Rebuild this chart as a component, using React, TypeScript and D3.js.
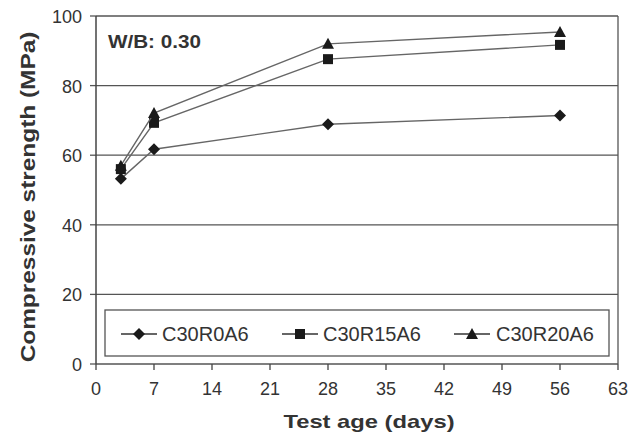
import { scaleLinear, line as d3Line } from "d3";

const days = [3, 7, 28, 56];
const seriesNames = ["C30R0A6", "C30R15A6", "C30R20A6"];
const c30r0a6 = [53.2, 61.7, 68.9, 71.4];
const c30r15a6 = [56.0, 69.3, 87.6, 91.7];
const c30r20a6 = [57.0, 72.1, 92.0, 95.4];
const xTickValues = [0, 7, 14, 21, 28, 35, 42, 49, 56, 63];
const yTickValues = [0, 20, 40, 60, 80, 100];
const annotation = "W/B: 0.30";

const width = 641;
const height = 434;
const margin = { top: 16, right: 23, bottom: 70, left: 96 };
const font = "'Liberation Sans', Arial, sans-serif";

const Marker = ({ kind, x, y }: { kind: string; x: number; y: number }) => {
  if (kind === "diamond") {
    return <path d={`M${x},${y - 6}L${x + 6},${y}L${x},${y + 6}L${x - 6},${y}Z`} fill="#1a1a1a" />;
  }
  if (kind === "square") {
    return <rect x={x - 5} y={y - 5} width={10} height={10} fill="#1a1a1a" />;
  }
  return <path d={`M${x},${y - 6}L${x + 6},${y + 5}L${x - 6},${y + 5}Z`} fill="#1a1a1a" />;
};

export default function App() {
  const x = scaleLinear().domain([0, 63]).range([margin.left, width - margin.right]);
  const y = scaleLinear().domain([0, 100]).range([height - margin.bottom, margin.top]);
  const series = [
    { name: seriesNames[0], values: c30r0a6, marker: "diamond" },
    { name: seriesNames[1], values: c30r15a6, marker: "square" },
    { name: seriesNames[2], values: c30r20a6, marker: "triangle" },
  ];
  const lineGen = d3Line<number>()
    .x((_, i) => x(days[i]))
    .y((d) => y(d));

  const legendItems = [
    { lx: 121, tx: 162 },
    { lx: 282, tx: 323 },
    { lx: 454, tx: 496 },
  ];

  return (
    <svg
      width={width}
      height={height}
      style={{ position: "absolute", left: 0, top: 0, background: "#fff" }}
      fontFamily={font}
    >
      {/* grid */}
      {yTickValues.map((t) => (
        <g key={`y-${t}`}>
          <line x1={x(0)} x2={x(63)} y1={y(t)} y2={y(t)} stroke="#555" strokeWidth={1.3} />
          <line x1={x(0) - 6} x2={x(0)} y1={y(t)} y2={y(t)} stroke="#555" strokeWidth={1.3} />
          <text x={82} y={y(t)} dy={7} textAnchor="end" fontSize={18} fill="#333">
            {t}
          </text>
        </g>
      ))}
      <line x1={x(0)} x2={x(0)} y1={y(0)} y2={y(100)} stroke="#444" strokeWidth={1.5} />
      <line x1={x(63)} x2={x(63)} y1={y(0)} y2={y(100)} stroke="#555" strokeWidth={1.3} />
      {xTickValues.map((t) => (
        <g key={`x-${t}`}>
          <line x1={x(t)} x2={x(t)} y1={y(0)} y2={y(0) + 6} stroke="#444" strokeWidth={1.3} />
          <text x={x(t)} y={y(0) + 31} textAnchor="middle" fontSize={18} fill="#333">
            {t}
          </text>
        </g>
      ))}

      {series.map((s) => (
        <g key={s.name}>
          <path d={lineGen(s.values) ?? ""} fill="none" stroke="#666" strokeWidth={1.4} />
          {s.values.map((v, i) => (
            <Marker key={i} kind={s.marker} x={x(days[i])} y={y(v)} />
          ))}
        </g>
      ))}

      <text transform="translate(108, 48) scale(1.18, 1)" fontSize={17.5} fontWeight="bold" fill="#333">
        {annotation}
      </text>

      {/* legend */}
      <rect x={105} y={310} width={504} height={46} fill="#fff" stroke="#555" strokeWidth={1.3} />
      {series.map((s, i) => (
        <g key={`leg-${s.name}`}>
          <line x1={legendItems[i].lx} x2={legendItems[i].lx + 36} y1={334} y2={334} stroke="#333" strokeWidth={1.3} />
          <Marker kind={s.marker} x={legendItems[i].lx + 18} y={334} />
          <text x={legendItems[i].tx} y={341} fontSize={20} fill="#333">
            {s.name}
          </text>
        </g>
      ))}

      <text
        transform="translate(369, 428) scale(1.25, 1)"
        textAnchor="middle"
        fontSize={19}
        fontWeight="bold"
        fill="#333"
      >
        Test age (days)
      </text>
      <text
        transform="translate(35, 197) rotate(-90) scale(1.22, 1)"
        textAnchor="middle"
        fontSize={20}
        fontWeight="bold"
        fill="#333"
      >
        Compressive strength (MPa)
      </text>
    </svg>
  );
}
